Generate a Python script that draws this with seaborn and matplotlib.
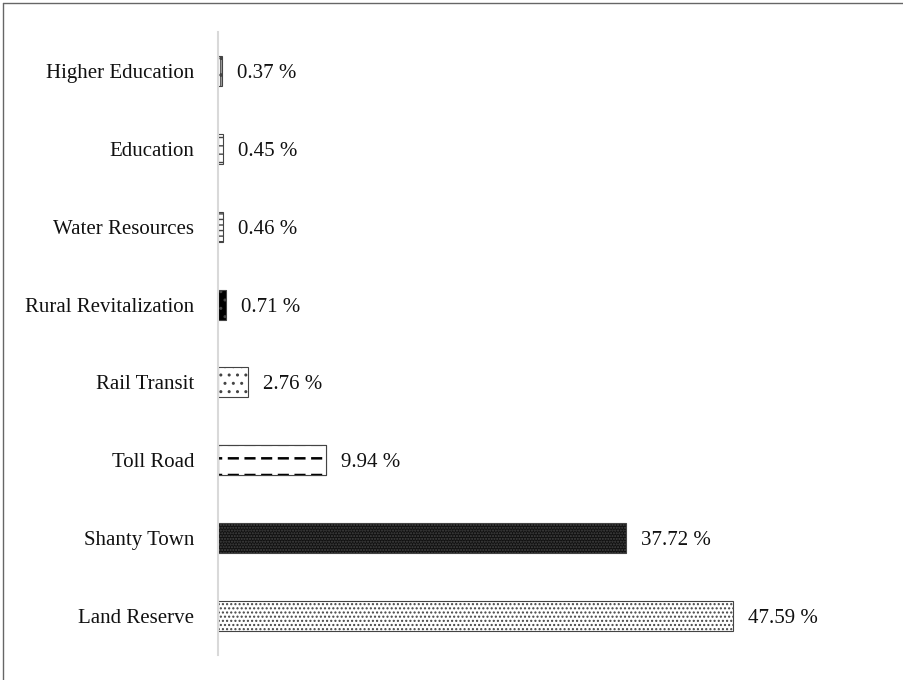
import matplotlib
matplotlib.use("Agg")
import matplotlib.pyplot as plt
import seaborn as sns
import pandas as pd
from matplotlib.lines import Line2D

categories = ["Higher Education", "Education", "Water Resources", "Rural Revitalization",
              "Rail Transit", "Toll Road", "Shanty Town", "Land Reserve"]
values = [0.37, 0.45, 0.46, 0.71, 2.76, 9.94, 37.72, 47.59]
faces = ["white", "white", "white", "black", "white", "white", "#111111", "white"]
hatch_colors = ["black", "black", "black", "white", "black", "black", "white", "black"]
hatches = ["||..", "--", "---", "..", "..", "", "......", "...."]

sns.set_theme(style="white")
plt.rcParams["font.family"] = ["Liberation Serif", "DejaVu Serif"]
plt.rcParams["hatch.linewidth"] = 1.0

df = pd.DataFrame({"cat": categories, "val": values})

fig = plt.figure(figsize=(9.04, 6.80), dpi=100)
ax = fig.add_axes([218/904, 1-655/680, 649/904, 623/680])

sns.barplot(data=df, x="val", y="cat", orient="h", ax=ax, width=0.385,
            color="white", edgecolor="#444444", linewidth=0.8)

for p, fc, hc, h in zip(ax.patches, faces, hatch_colors, hatches):
    p.set_facecolor(fc)
    p.set_hatch(h if h else None)
    try:
        p.set_hatchcolor(hc)
    except Exception:
        pass
    p.set_edgecolor("#444444")

# Toll Road: thick horizontal lines broken into dashes by white vertical strokes
toll = df[df["cat"] == "Toll Road"]
ty = [categories.index("Toll Road")]
with plt.rc_context({"hatch.linewidth": 1.8, "hatch.color": "black"}):
    n_before = len(ax.patches)
    ax.barh(y=ty, width=toll["val"].values, height=0.385,
            fill=False, edgecolor="black", linewidth=0, hatch="-")
    for p in ax.patches[n_before:]:
        try:
            p.set_hatchcolor("black")
        except Exception:
            pass
with plt.rc_context({"hatch.linewidth": 4.0, "hatch.color": "white"}):
    n_before = len(ax.patches)
    ax.barh(y=ty, width=toll["val"].values, height=0.385,
            fill=False, edgecolor="white", linewidth=0, hatch="|")
    for p in ax.patches[n_before:]:
        try:
            p.set_hatchcolor("white")
        except Exception:
            pass
ax.barh(y=ty, width=toll["val"].values, height=0.385,
        fill=False, edgecolor="#444444", linewidth=0.8)

ax.set_xlim(0, 60)
ax.set_ylim(7.5, -0.5)
ax.set_xlabel("")
ax.set_ylabel("")
ax.set_xticks([])
for s in ["top", "right", "bottom"]:
    ax.spines[s].set_visible(False)
ax.spines["left"].set_color("#d9d9d9")
ax.spines["left"].set_linewidth(1.5)
ax.tick_params(axis="y", length=0, pad=17, labelsize=15, labelcolor="#111111")

for i, v in enumerate(values):
    ax.text(v + 1.4, i, f"{v:.2f} %", va="center_baseline", ha="left", fontsize=15, color="#111111")

fig.add_artist(Line2D([3/904, 3/904], [0, 1-3/680], color="#666666", lw=1))
fig.add_artist(Line2D([3/904, 1], [1-3/680, 1-3/680], color="#666666", lw=1))

fig.savefig("out.png", dpi=100)
